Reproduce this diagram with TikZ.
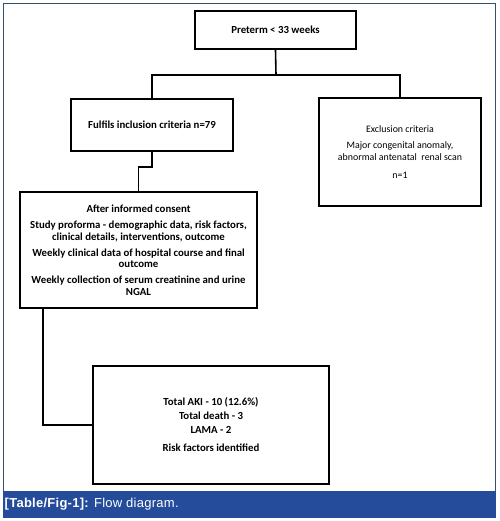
\documentclass[tikz,border=0pt]{standalone}
\usepackage{fontspec}
\setmainfont{Carlito}
\newfontfamily\capfont[LetterSpace=2]{Liberation Sans}
\definecolor{framecol}{HTML}{34506F}
\definecolor{barcol}{HTML}{244C9A}
\begin{document}
\begin{tikzpicture}[x=1pt,y=-1pt,
  box/.style={draw=black,line width=1.6pt,rectangle,align=center,inner sep=0pt,font=\fontsize{10.8}{12}\selectfont\bfseries},
  link/.style={draw=black,line width=1.6pt}]
\useasboundingbox (0,0) rectangle (499,521);
\fill[white] (0,0) rectangle (499,521);
\draw[framecol,line width=1.5pt] (3.7,491) -- (3.7,3.7) -- (495.3,3.7) -- (495.3,491);
\fill[barcol] (3,491) rectangle (496,517.5);
\node[anchor=west,text=white,font=\capfont\fontsize{13}{15}\selectfont,inner sep=0pt] (cap) at (4.5,504.5) {\textbf{[Table/Fig-1]:} Flow diagram.};

\node[box,minimum width=161pt,minimum height=38pt] (pre) at (275.5,30) {Preterm < 33 weeks};
\node[box,minimum width=162pt,minimum height=52pt] (ful) at (152,125) {Fulfils inclusion criteria n=79};
\node[box,minimum width=162pt,minimum height=108pt,font=\fontsize{9.9}{12}\selectfont] (exc) at (400,152) {Exclusion criteria\\[4pt]Major congenital anomaly,\\abnormal antenatal\ \ renal scan\\[6pt]n=1};
\node[box,minimum width=237pt,minimum height=116pt] (con) at (138.5,250) {After informed consent\\[4pt]Study proforma - demographic data, risk factors,\\clinical details, interventions, outcome\\[4pt]Weekly clinical data of hospital course and final\\[-1pt]outcome\\[4pt]Weekly collection of serum creatinine and urine\\NGAL};
\node[box,minimum width=236pt,minimum height=118pt,font=\fontsize{10.8}{14}\selectfont\bfseries] (res) at (211,425) {Total AKI - 10 (12.6\%)\\Total death - 3\\LAMA - 2\\[4pt]Risk factors identified};

\coordinate (j) at (276,75);
\coordinate (s1) at (152,167);
\coordinate (s2) at (138.5,167);
\coordinate (c1) at (43,308);
\draw[link] (pre.south) -- (j);
\draw[link] (ful.north) |- (j) -| (exc.north);
\draw[link] (ful.south) -- (s1) -- (s2) -- (con.north);
\draw[link] (c1) |- (res.west);
\end{tikzpicture}
\end{document}
